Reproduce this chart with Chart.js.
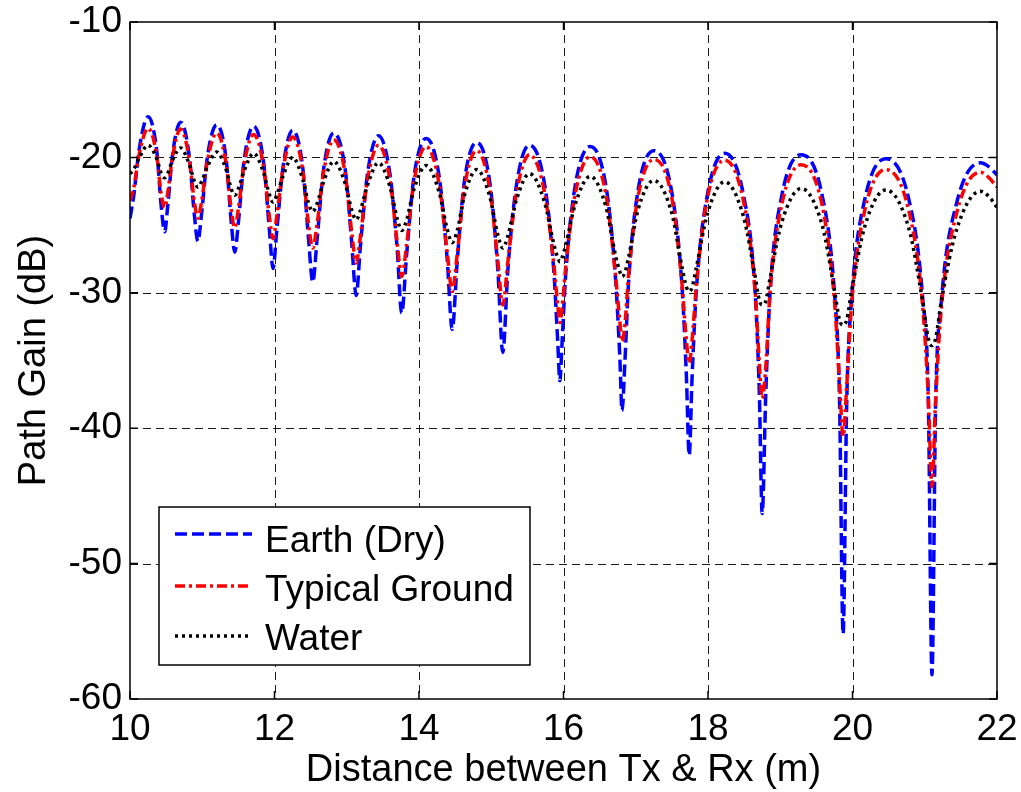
<!DOCTYPE html>
<html><head><meta charset="utf-8">
<script src="https://cdn.jsdelivr.net/npm/chart.js@4.4.1/dist/chart.umd.min.js"></script>
<style>html,body{margin:0;padding:0;background:#fff;}#wrap{width:1021px;height:792px;}</style>
</head><body><div id="wrap"><canvas id="c" width="1021" height="792"></canvas></div>
<script>
const distance = [10.00,10.05,10.13,10.25,10.37,10.43,10.48,10.52,10.59,10.70,10.82,10.89,10.94,10.99,11.07,11.20,11.33,11.40,11.45,11.50,11.58,11.71,11.85,11.93,11.98,12.03,12.12,12.25,12.39,12.47,12.53,12.59,12.68,12.82,12.98,13.07,13.13,13.19,13.29,13.44,13.60,13.70,13.76,13.83,13.93,14.10,14.28,14.39,14.46,14.53,14.63,14.80,14.98,15.09,15.16,15.23,15.35,15.53,15.74,15.87,15.92,15.95,15.98,16.03,16.16,16.37,16.59,16.72,16.78,16.81,16.85,16.90,17.03,17.25,17.50,17.64,17.70,17.74,17.78,17.84,17.99,18.23,18.49,18.65,18.71,18.75,18.80,18.86,19.02,19.29,19.58,19.75,19.82,19.87,19.92,19.99,20.17,20.46,20.78,20.97,21.05,21.10,21.15,21.23,21.44,21.77,21.89,22.00];
const earthDry = [-24.5,-22.9,-19.3,-17.0,-19.5,-23.5,-25.5,-23.7,-19.75,-17.4,-19.9,-24.2,-26.2,-24.2,-20.0,-17.6,-20.1,-24.7,-27.0,-24.8,-20.2,-17.7,-20.4,-25.4,-28.2,-25.5,-20.65,-18.0,-20.7,-25.95,-29.2,-26.0,-20.85,-18.2,-20.95,-26.4,-30.2,-26.5,-21.1,-18.4,-21.3,-26.9,-31.5,-27.1,-21.45,-18.6,-21.45,-27.5,-32.7,-27.6,-21.7,-18.9,-21.85,-28.2,-34.4,-28.3,-22.0,-19.1,-22.05,-28.7,-33.6,-36.5,-33.7,-28.7,-22.15,-19.2,-22.2,-28.95,-34.8,-38.7,-35.1,-29.3,-22.5,-19.5,-22.6,-29.5,-36.0,-42.0,-36.2,-29.7,-22.8,-19.7,-22.75,-29.8,-37.3,-46.3,-37.4,-29.9,-22.85,-19.8,-22.8,-30.0,-37.8,-55.2,-38.1,-30.3,-23.1,-20.1,-23.1,-30.3,-38.1,-58.2,-38.4,-30.6,-23.4,-20.4,-20.7,-21.3];
const typicalGround = [-23.2,-22.3,-19.7,-17.85,-19.85,-22.65,-23.7,-22.7,-19.9,-17.9,-20.1,-23.25,-24.5,-23.3,-20.3,-18.2,-20.45,-23.8,-25.2,-23.8,-20.5,-18.3,-20.7,-24.4,-26.0,-24.4,-20.8,-18.5,-20.9,-24.9,-26.7,-24.9,-21.1,-18.7,-21.25,-25.6,-27.8,-25.8,-21.55,-19.1,-21.7,-26.4,-28.8,-26.4,-21.8,-19.2,-22.0,-27.0,-29.9,-27.1,-22.2,-19.5,-22.35,-27.6,-30.9,-27.7,-22.6,-19.8,-22.65,-28.1,-30.9,-32.2,-31.15,-28.15,-22.75,-19.95,-22.8,-28.7,-32.15,-33.6,-32.35,-28.75,-22.95,-20.15,-23.0,-29.35,-33.45,-35.2,-33.5,-29.4,-23.05,-20.2,-23.2,-29.7,-35.1,-37.8,-35.45,-29.85,-23.5,-20.55,-23.55,-30.55,-36.55,-40.6,-36.9,-30.7,-23.9,-20.9,-23.95,-30.9,-37.8,-44.3,-38.0,-31.1,-24.15,-21.1,-21.5,-22.2];
const water = [-21.2,-20.9,-20.0,-19.1,-20.1,-21.15,-21.5,-21.2,-20.2,-19.3,-20.5,-21.75,-22.2,-21.8,-20.7,-19.6,-20.9,-22.3,-22.8,-22.3,-21.0,-19.7,-21.15,-22.75,-23.3,-22.8,-21.35,-20.0,-21.6,-23.35,-24.0,-23.4,-21.8,-20.3,-21.95,-23.9,-24.6,-23.9,-22.0,-20.4,-22.2,-24.55,-25.4,-24.6,-22.35,-20.6,-22.6,-25.3,-26.3,-25.4,-22.8,-20.9,-22.9,-25.7,-26.7,-25.8,-23.1,-21.2,-23.35,-26.5,-27.4,-27.7,-27.4,-26.5,-23.5,-21.4,-23.7,-27.25,-28.45,-28.8,-28.5,-27.4,-23.9,-21.7,-24.15,-28.1,-29.55,-29.9,-29.6,-28.1,-24.2,-21.8,-24.35,-28.7,-30.55,-30.9,-30.6,-28.9,-24.8,-22.3,-25.0,-29.8,-32.0,-32.4,-32.0,-29.8,-25.1,-22.4,-25.25,-30.6,-33.4,-33.9,-33.4,-30.6,-25.35,-22.5,-22.9,-23.7];
const xTicks = [10,12,14,16,18,20,22];
const yTicks = [-60,-50,-40,-30,-20,-10];
const seriesNames = ['Earth (Dry)','Typical Ground','Water'];
const seriesColors = ['#0000ff','#ff0000','#000000'];
const seriesDash = [[12,5],[10,4,3,4],[3,4]];

const FONT = 'Liberation Sans, Arial, Helvetica, sans-serif';
const toPts = ys => distance.map((x,i)=>({x:x,y:ys[i]}));

const framePlugin = {
  id:'frame',
  beforeDatasetsDraw(chart){
    const {ctx, chartArea:ca, scales:{x,y}} = chart;
    ctx.save();
    ctx.strokeStyle = '#1a1a1a';
    ctx.lineWidth = 1;
    ctx.setLineDash([8,5]);
    xTicks.forEach(v=>{ if(v===xTicks[0]||v===xTicks[xTicks.length-1]) return;
      const px = Math.round(x.getPixelForValue(v))+0.5;
      ctx.beginPath(); ctx.moveTo(px,ca.top); ctx.lineTo(px,ca.bottom); ctx.stroke(); });
    yTicks.forEach(v=>{ if(v===yTicks[0]||v===yTicks[yTicks.length-1]) return;
      const py = Math.round(y.getPixelForValue(v))+0.5;
      ctx.beginPath(); ctx.moveTo(ca.left,py); ctx.lineTo(ca.right,py); ctx.stroke(); });
    ctx.restore();
  },
  afterDatasetsDraw(chart){
    const {ctx, chartArea:ca, scales:{x,y}} = chart;
    ctx.save();
    ctx.strokeStyle = '#000';
    ctx.lineWidth = 1.5;
    ctx.setLineDash([]);
    ctx.strokeRect(ca.left, ca.top, ca.right-ca.left, ca.bottom-ca.top);
    const tl = 8;
    xTicks.forEach(v=>{ const px = x.getPixelForValue(v);
      ctx.beginPath(); ctx.moveTo(px,ca.bottom); ctx.lineTo(px,ca.bottom-tl);
      ctx.moveTo(px,ca.top); ctx.lineTo(px,ca.top+tl); ctx.stroke(); });
    yTicks.forEach(v=>{ const py = y.getPixelForValue(v);
      ctx.beginPath(); ctx.moveTo(ca.left,py); ctx.lineTo(ca.left+tl,py);
      ctx.moveTo(ca.right,py); ctx.lineTo(ca.right-tl,py); ctx.stroke(); });
    ctx.restore();
  },
  afterDraw(chart){
    const {ctx, chartArea:ca} = chart;
    const bx = ca.left+29, by = ca.bottom-192, bw = 371, bh = 158;
    ctx.save();
    ctx.fillStyle = '#fff';
    ctx.fillRect(bx,by,bw,bh);
    ctx.strokeStyle = '#000'; ctx.lineWidth = 1.5; ctx.setLineDash([]);
    ctx.strokeRect(bx,by,bw,bh);
    const lineY = [27,79,129], textY = [45,94,143];
    seriesNames.forEach((name,i)=>{
      ctx.strokeStyle = seriesColors[i]; ctx.lineWidth = 3.5; ctx.setLineDash(seriesDash[i]);
      ctx.beginPath(); ctx.moveTo(bx+16, by+lineY[i]); ctx.lineTo(bx+93, by+lineY[i]); ctx.stroke();
      ctx.setLineDash([]);
      ctx.fillStyle = '#000'; ctx.font = '37px '+FONT; ctx.textBaseline='alphabetic'; ctx.textAlign='left';
      ctx.fillText(name, bx+106, by+textY[i]);
    });
    ctx.restore();
  }
};

new Chart(document.getElementById('c'), {
  type:'line',
  data:{ datasets:[
    {label:seriesNames[0], data:toPts(earthDry), borderColor:seriesColors[0], borderDash:seriesDash[0], order:3},
    {label:seriesNames[1], data:toPts(typicalGround), borderColor:seriesColors[1], borderDash:seriesDash[1], order:2},
    {label:seriesNames[2], data:toPts(water), borderColor:seriesColors[2], borderDash:seriesDash[2], order:1}
  ]},
  options:{
    responsive:false, animation:false, devicePixelRatio:1,
    layout:{padding:{top:22,right:24,left:0,bottom:0}},
    plugins:{legend:{display:false}, tooltip:{enabled:false}},
    elements:{point:{radius:0}, line:{borderWidth:3.5, fill:false, cubicInterpolationMode:'monotone', borderCapStyle:'butt'}},
    scales:{
      x:{type:'linear', min:10, max:22,
        afterBuildTicks:s=>{s.ticks = xTicks.map(v=>({value:v}));},
        grid:{display:false, drawTicks:false}, border:{display:false},
        ticks:{font:{family:FONT,size:37}, color:'#000', padding:9, maxRotation:0, autoSkip:false, callback:v=>String(v)},
        title:{display:true, text:'Distance between Tx & Rx (m)', font:{family:FONT,size:38}, color:'#000', padding:{top:0,bottom:-1}},
        afterFit:s=>{s.height=93; s.paddingLeft=0; s.paddingRight=0;}
      },
      y:{type:'linear', min:-60, max:-10,
        afterBuildTicks:s=>{s.ticks = yTicks.map(v=>({value:v}));},
        grid:{display:false, drawTicks:false}, border:{display:false},
        ticks:{font:{family:FONT,size:37}, color:'#000', padding:8, autoSkip:false, callback:v=>String(v)},
        title:{display:true, text:'Path Gain (dB)', font:{family:FONT,size:38}, color:'#000', padding:{top:12,bottom:0}},
        afterFit:s=>{s.width=130; s.paddingTop=0; s.paddingBottom=0;}
      }
    }
  },
  plugins:[framePlugin]
});
</script>
</body></html>
